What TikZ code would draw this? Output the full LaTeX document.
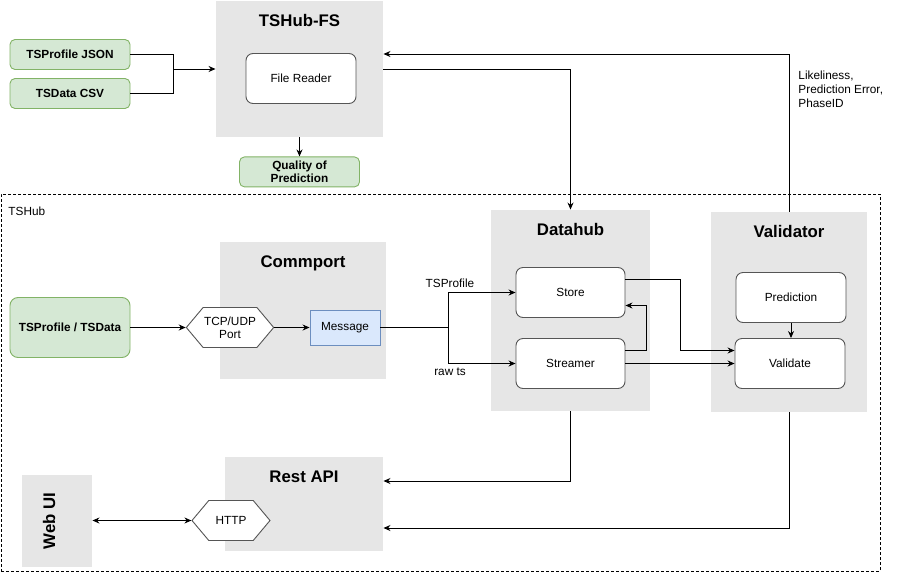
\documentclass[tikz,border=0pt]{standalone}
\usepackage{fontspec}
\setmainfont{Liberation Sans}
\usetikzlibrary{arrows.meta,positioning,shapes.symbols}

\definecolor{grpgray}{HTML}{E6E6E6}
\definecolor{srcfill}{HTML}{D5E8D4}
\definecolor{srcedge}{HTML}{82B366}
\definecolor{msgfill}{HTML}{DAE8FC}
\definecolor{msgedge}{HTML}{6C8EBF}
\definecolor{blkedge}{HTML}{555555}

\begin{document}
\begin{tikzpicture}[
  x=1pt, y=-1pt,
  line width=0.9pt,
  grp/.style={fill=grpgray, draw=none, inner sep=0pt},
  ttl/.style={font=\fontsize{16.8}{19}\selectfont\bfseries, inner sep=0pt},
  blk/.style={draw=blkedge, fill=white, rounded corners=7pt, minimum width=110pt, minimum height=50pt, font=\fontsize{11.8}{14}\selectfont},
  src/.style={draw=srcedge, fill=srcfill, rounded corners=5pt, minimum width=120pt, minimum height=30pt, align=center, font=\fontsize{11.8}{14}\selectfont\bfseries},
  port/.style={signal, signal to=east and west, signal pointer angle=100, draw=blkedge, fill=white, minimum width=80pt, minimum height=40pt, inner sep=1pt, align=center, font=\fontsize{11.8}{13}\selectfont},
  lbl/.style={inner sep=0pt, align=left, font=\fontsize{11.8}{14}\selectfont},
  >={Stealth[length=7pt,width=6pt]}
]
\useasboundingbox (0,0) rectangle (897,573);

% TSHub frame
\node[draw, dash pattern=on 3pt off 2pt, line width=0.7pt, minimum width=879pt, minimum height=377pt, inner sep=0pt] (hub) at (440.5,382.5) {};
\node[lbl, anchor=west] (hubt) at (8,211) {TSHub};

% file system part
\node[grp, minimum width=167pt, minimum height=136pt] (fs) at (299.5,69) {};
\node[ttl, below=13.5pt of fs.north] (fst) {TSHub-FS};
\node[blk] (rdr) at (301,78.5) {File Reader};
\node[src] (jsn) at (70,54.5) {TSProfile JSON};
\node[src] (csv) at (70,93.5) {TSData CSV};
\node[src, below=19pt of fs.south, font=\fontsize{11.8}{13}\selectfont\bfseries] (qop) {Quality of\\Prediction};

% commport
\node[grp, minimum width=166pt, minimum height=137pt] (cp) at (303,310.5) {};
\node[ttl, below=13.5pt of cp.north] (cpt) {Commport};
\node[src, minimum height=60pt, rounded corners=8pt] (tsin) at (70,327.5) {TSProfile / TSData};
\node[port] (tcp) at (230,327.5) {TCP/UDP\\Port};
\node[draw=msgedge, fill=msgfill, minimum width=70pt, minimum height=35pt, font=\fontsize{11.8}{14}\selectfont] (msg) at (345,327.5) {Message};

% datahub
\node[grp, minimum width=159pt, minimum height=201pt] (dh) at (570.5,310.5) {};
\node[ttl, below=13.5pt of dh.north] (dht) {Datahub};
\node[blk, minimum width=109pt] (store) at (570.5,292.5) {Store};
\node[blk, minimum width=109pt] (strm) at (570.5,363.5) {Streamer};

% validator
\node[grp, minimum width=156pt, minimum height=200pt] (val) at (789,312) {};
\node[ttl, below=13.5pt of val.north] (valt) {Validator};
\node[blk] (pred) at (791,297.5) {Prediction};
\node[blk] (vld) at (790,363.5) {Validate};

% rest api and web ui
\node[grp, minimum width=158pt, minimum height=94pt] (api) at (304,504) {};
\node[ttl, below=13.5pt of api.north] (apit) {Rest API};
\node[port, minimum width=78pt] (http) at (231,520.5) {HTTP};
\node[grp, minimum width=70pt, minimum height=92pt] (web) at (57,520.5) {};
\node[ttl, rotate=90] (webt) at (49,521) {Web UI};

% connectors
\coordinate (jn) at (173,69);
\draw (jsn.east) -| (jn);
\draw (csv.east) -| (jn);
\draw[->] (jn) -- (fs.west);
\draw[->] (fs.south) -- (qop.north);
\draw[->] (fs.east) -| (dh.north);
\draw[->] (val.north) |- ([yshift=15pt]fs.east);
\node[lbl, anchor=west] (res) at (798,89) {Likeliness,\\Prediction Error,\\PhaseID};

\draw[->] (tsin.east) -- (tcp.west);
\draw[->] (tcp.east) -- (msg.west);
\coordinate (sp) at (448,327.5);
\draw (msg.east) -- (sp);
\draw[->] (sp) |- (store.west);
\draw[->] (sp) |- (strm.west);
\node[lbl] (tsp) at (450,283) {TSProfile};
\node[lbl] (raw) at (450,372) {raw ts};

\draw[->] ([yshift=13pt]strm.east) -- ++(21,0) |- ([yshift=-13pt]store.east);
\draw[->] ([yshift=13pt]store.east) -- ++(55,0) |- ([yshift=13pt]vld.west);
\draw[->] (strm.east) -- (vld.west);
\draw[->] (pred.south) -- (pred.south |- vld.north);

\draw[->] (dh.south) |- ([yshift=23pt]api.east);
\draw[->] (val.south) |- ([yshift=-24pt]api.east);
\draw[<->] (web.east) -- (http.west);
\end{tikzpicture}
\end{document}
